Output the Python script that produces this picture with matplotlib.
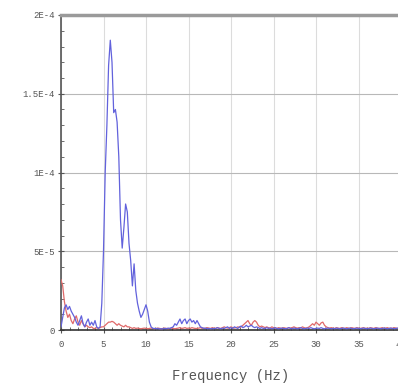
import numpy as np
import matplotlib
matplotlib.use('Agg')
import matplotlib.pyplot as plt
from matplotlib.ticker import MultipleLocator, FixedLocator, FixedFormatter

# Frecuencias (paso 0.2 Hz)
freq = np.round(np.arange(0, 40.001, 0.2), 1)

# Espectro azul (unidades de 1E-6)
azul = [2, 8, 14, 16, 13, 15, 12, 10, 8, 5,
        3, 6, 9, 4, 2, 5, 7, 3, 5, 3,
        6, 2, 1, 2, 17, 50, 100, 130, 168, 184,
        170, 138, 140, 132, 110, 70, 52, 65, 80, 75,
        55, 44, 28, 42, 25, 17, 12, 8, 10, 13,
        16, 12, 5, 2, 1, 1, 0.8, 1, 0.6, 0.8,
        0.7, 1, 0.8, 1.2, 1, 1.5, 2, 4, 3, 5,
        7, 4, 6, 7, 4, 6, 7, 5, 6, 4,
        6, 4, 2, 1.5, 1, 1.2, 0.8, 1, 0.7, 1,
        0.8, 1, 1.5, 1, 0.8, 1.2, 1, 1.5, 2, 1,
        1.5, 1, 2, 1.5, 1, 2, 2.5, 1.5, 2, 3,
        2, 2.5, 3, 2, 1.5, 2, 1.5, 1, 1.5, 1,
        1, 1.5, 1, 1.2, 0.8, 1, 1.5, 1, 0.8, 1,
        1.2, 1, 0.8, 1, 1.5, 1, 0.8, 1.2, 1, 0.8,
        1, 1.5, 1, 0.8, 1, 1.2, 1, 1.5, 1, 0.8,
        1, 1.2, 1, 1.5, 1, 0.8, 1, 1.2, 1, 0.8,
        1, 0.8, 1.2, 1, 0.8, 1, 1.2, 1, 0.8, 1,
        1.2, 1, 0.8, 1, 1.2, 1, 0.8, 1, 1.2, 1,
        0.8, 1, 1.2, 1, 0.8, 1, 1.2, 1, 0.8, 1,
        1.2, 1, 0.8, 1, 1.2, 1, 0.8, 1, 1.2, 1,
        0.8]

# Espectro rojo (unidades de 1E-6)
rojo = [32, 28, 18, 12, 8, 10, 6, 4, 7, 9,
        5, 3, 6, 4, 2, 3, 2, 1.5, 2, 1,
        1, 1.5, 1, 1.5, 2, 2, 3, 4, 5, 5,
        5.5, 5, 4, 3, 4, 3, 2.5, 2, 3, 2,
        2, 1.5, 1, 1.5, 1, 1.2, 1, 0.8, 1, 1.2,
        1, 0.8, 1, 1.2, 1, 0.8, 1, 1.2, 1, 0.8,
        1, 1.2, 1, 0.8, 1, 1.2, 1, 0.8, 1, 1.2,
        1.5, 1, 1.2, 1.5, 1, 1.2, 1, 1.5, 1.2, 1,
        1, 1.2, 1.5, 1, 1.2, 1, 1.5, 1.2, 1, 1.5,
        1.2, 1, 1.5, 1.2, 1, 1.5, 2, 1.5, 1.2, 1.5,
        2, 1.5, 1.2, 1.5, 2, 1.5, 2, 3, 4, 5,
        6, 4, 3, 5, 6, 5, 3, 2, 2.5, 2,
        1.5, 2, 1.5, 1.2, 2, 1.5, 1.2, 1, 1.5, 1.2,
        1, 1.5, 1.2, 1, 1.5, 1.2, 1.5, 2, 1.5, 1.2,
        1.5, 1.2, 2, 1.5, 1.2, 1.5, 2, 3, 4, 3,
        5, 4, 3, 4.5, 5, 3, 2, 1.5, 1.2, 1.5,
        1.2, 1, 1.5, 1.2, 1, 1.5, 1.2, 1, 1.5, 1.2,
        1, 1.5, 1.2, 1, 1.5, 1.2, 1, 1.2, 1.5, 1,
        1.2, 1, 1.5, 1.2, 1, 1.5, 1.2, 1, 1.2, 1.5,
        1, 1.2, 1.5, 1, 1.2, 1, 1.5, 1.2, 1, 1.2,
        1]

y_ticks = [0, 5e-5, 1e-4, 1.5e-4, 2e-4]
y_labels = ['0', '5E-5', '1E-4', '1.5E-4', '2E-4']
x_ticks = [0, 5, 10, 15, 20, 25, 30, 35, 40]

fig = plt.figure(figsize=(3.98, 3.83), dpi=100)
ax = fig.add_axes([61 / 398, 53 / 383, 340 / 398, 315 / 383])

ax.plot(freq, np.array(rojo) * 1e-6, color='#e06a6a', lw=0.9, zorder=3)
ax.plot(freq, np.array(azul) * 1e-6, color='#6262dc', lw=0.9, zorder=4)

ax.set_xlim(0, 40)
ax.set_ylim(0, 2e-4)

ax.xaxis.set_major_locator(FixedLocator(x_ticks))
ax.xaxis.set_minor_locator(MultipleLocator(1))
ax.yaxis.set_major_locator(FixedLocator(y_ticks))
ax.yaxis.set_major_formatter(FixedFormatter(y_labels))
ax.yaxis.set_minor_locator(MultipleLocator(1e-5))

# Rejilla
ax.grid(axis='x', which='major', color='#dcdcdc', lw=0.8)
ax.grid(axis='y', which='major', color='#b8b8b8', lw=0.8)
ax.set_axisbelow(True)

ax.tick_params(which='major', direction='inout', length=5, width=0.8,
               color='#555555', labelsize=6.5, labelcolor='#555555')
ax.tick_params(axis='y', which='major', pad=2)
ax.tick_params(axis='x', which='major', pad=5)
ax.tick_params(which='minor', direction='in', length=2.5, width=0.6,
               color='#555555')
for lab in ax.get_xticklabels() + ax.get_yticklabels():
    lab.set_family('Liberation Mono')

ax.spines['top'].set_color('#9a9a9a')
ax.spines['top'].set_linewidth(2.5)
ax.spines['left'].set_color('#555555')
ax.spines['left'].set_linewidth(1.2)
ax.spines['bottom'].set_color('#333333')
ax.spines['bottom'].set_linewidth(1.2)
ax.spines['right'].set_visible(False)

ax.set_xlabel('Frequency (Hz)', family='Liberation Mono', fontsize=10,
              color='#555555', labelpad=14)

fig.savefig('out.png', dpi=100)
